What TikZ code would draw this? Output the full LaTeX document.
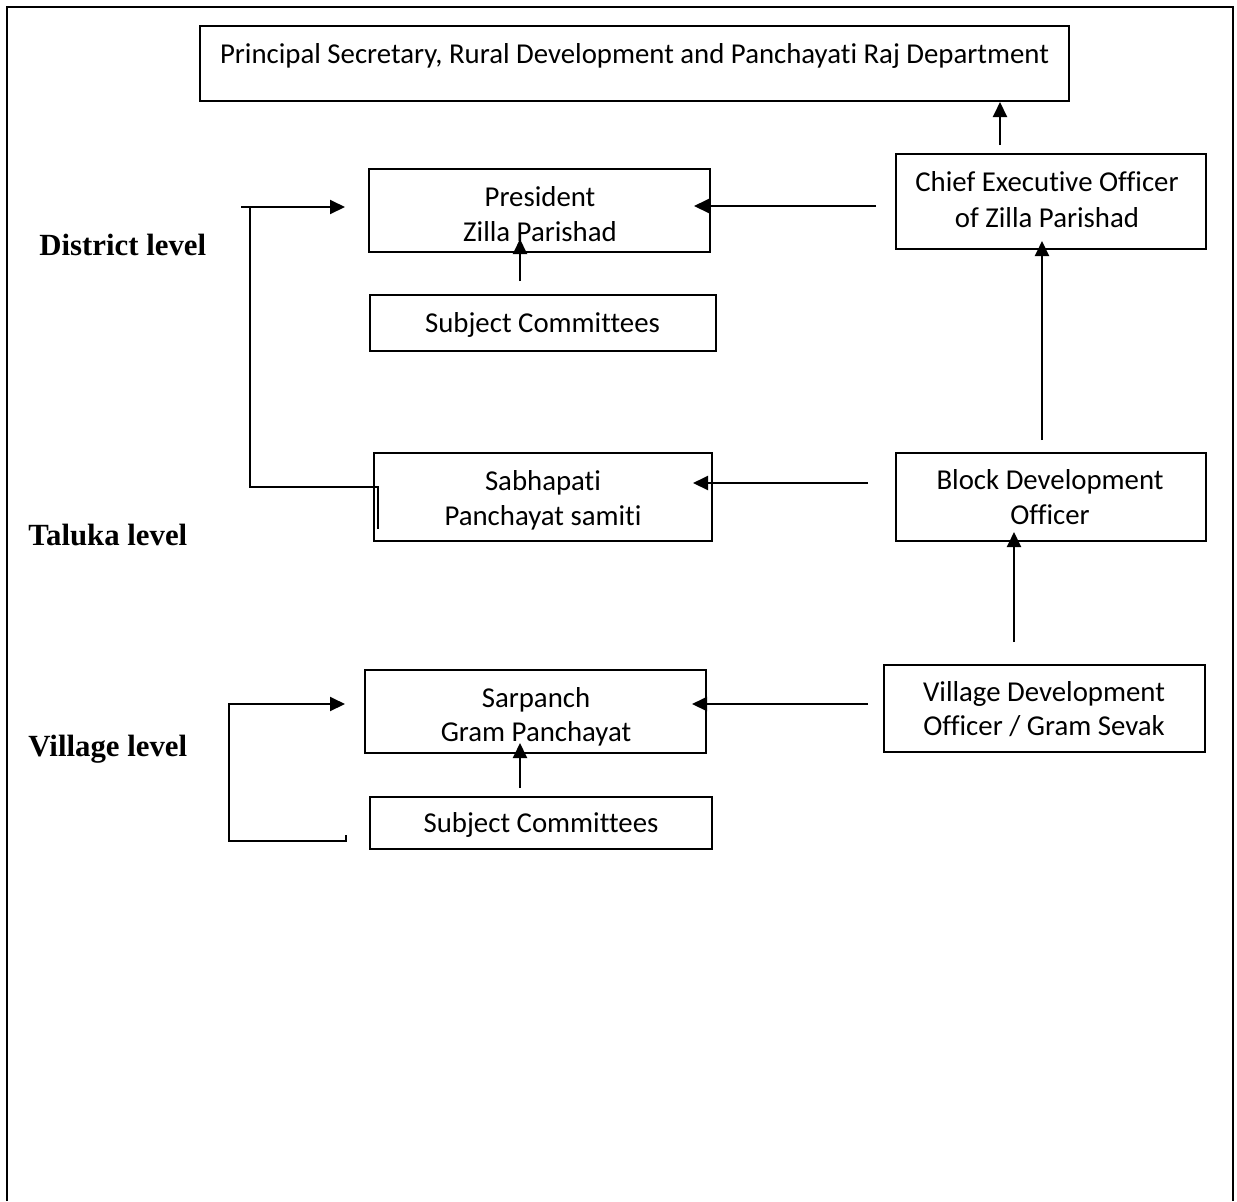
\documentclass[tikz,border=0pt]{standalone}
\usepackage{fontspec}
\setmainfont{Carlito}[Ligatures=NoCommon]
\newfontfamily\lvlfont{Liberation Serif}
\usetikzlibrary{arrows.meta}
\begin{document}
\begin{tikzpicture}[x=0.5pt,y=-0.5pt,
  box/.style={draw, line width=1pt, inner sep=0pt},
  txt/.style={anchor=base, inner sep=0pt, font=\fontsize{14.4}{17}\selectfont},
  lvl/.style={anchor=base west, inner sep=0pt, font=\lvlfont\bfseries\fontsize{15.4}{18}\selectfont},
  conn/.style={line width=1pt},
  arr/.style={conn, -{Triangle[length=7.5pt,width=7pt]}}]
\useasboundingbox (0,0) rectangle (1237,1201);
\fill[white] (0,0) rectangle (1237,1201);
\draw[line width=1.2pt] (7,1201) -- (7,7) -- (1233,7) -- (1233,1201);

% boxes
\node[box, minimum width=434.5pt, minimum height=37.5pt] (top) at (634.5,63.5) {};
\node[box, minimum width=170.5pt, minimum height=41.5pt] (pres) at (539.5,210.5) {};
\node[box, minimum width=173pt, minimum height=28pt] (subjd) at (543,323) {};
\node[box, minimum width=155pt, minimum height=47.5pt] (ceo) at (1051,201.5) {};
\node[box, minimum width=169pt, minimum height=44pt] (sabha) at (543,497) {};
\node[box, minimum width=155pt, minimum height=44pt] (bdo) at (1051,497) {};
\node[box, minimum width=160.5pt, minimum height=43.5pt] (vdo) at (1044,708.5) {};
\node[box, minimum width=170.5pt, minimum height=41.5pt] (sarp) at (535.5,711.5) {};
\node[box, minimum width=171pt, minimum height=26pt] (subjv) at (541,823) {};

% texts
\node[txt] (topT) at (634.5,63) {Principal Secretary, Rural Development and Panchayati Raj Department};
\node[txt] (presA) at (540,206) {President};
\node[txt] (presB) at (540,241) {Zilla Parishad};
\node[txt] (subjdT) at (542.5,332) {Subject Committees};
\node[txt] (ceoA) at (1047,191) {Chief Executive Officer};
\node[txt] (ceoB) at (1047,227) {of Zilla Parishad};
\node[txt] (sabhaA) at (543,490) {Sabhapati};
\node[txt] (sabhaB) at (543,525) {Panchayat samiti};
\node[txt] (bdoA) at (1050,489) {Block Development};
\node[txt] (bdoB) at (1050,524) {Officer};
\node[txt] (vdoA) at (1044,701) {Village Development};
\node[txt] (vdoB) at (1044,735) {Officer / Gram Sevak};
\node[txt] (sarpA) at (536,707) {Sarpanch};
\node[txt] (sarpB) at (536,741) {Gram Panchayat};
\node[txt] (subjvT) at (541,832) {Subject Committees};

% level labels
\node[lvl] (lvlD) at (39,255) {District level};
\node[lvl] (lvlT) at (28,545) {Taluka level};
\node[lvl] (lvlV) at (28,756) {Village level};

% connector ends
\coordinate (a1s) at (1000,145);
\coordinate (a2s) at (876,206);  \coordinate (a2e) at (694,206);
\coordinate (a3s) at (520,281);  \coordinate (a3e) at (520,239);
\coordinate (a4s) at (241,207);  \coordinate (a4e) at (345,207);
\coordinate (b4a) at (250,207);  \coordinate (b4b) at (250,487);
\coordinate (b4c) at (378,487);  \coordinate (b4d) at (378,529);
\coordinate (a5s) at (868,483);  \coordinate (a5e) at (693,483);
\coordinate (a6s) at (1042,440); \coordinate (a6e) at (1042,241);
\coordinate (a7s) at (1014,642); \coordinate (a7e) at (1014,532);
\coordinate (a8s) at (868,704);  \coordinate (a8e) at (692,704);
\coordinate (a9s) at (520,788);  \coordinate (a9e) at (520,743);
\coordinate (c1) at (346,835); \coordinate (c2) at (346,841);
\coordinate (c3) at (229,841); \coordinate (c4) at (229,704);
\coordinate (c5) at (345,704);

% connectors
\draw[arr] (a1s) -- (a1s |- top.south);
\draw[arr] (a2s) -- (a2e);
\draw[arr] (a3s) -- (a3e);
\draw[arr] (a4s) -- (a4e);
\draw[conn] (b4a) -- (b4b) -- (b4c) -- (b4d);
\draw[arr] (a5s) -- (a5e);
\draw[arr] (a6s) -- (a6e);
\draw[arr] (a7s) -- (a7e);
\draw[arr] (a8s) -- (a8e);
\draw[arr] (a9s) -- (a9e);
\draw[arr] (c1) -- (c2) -- (c3) -- (c4) -- (c5);
\end{tikzpicture}
\end{document}
